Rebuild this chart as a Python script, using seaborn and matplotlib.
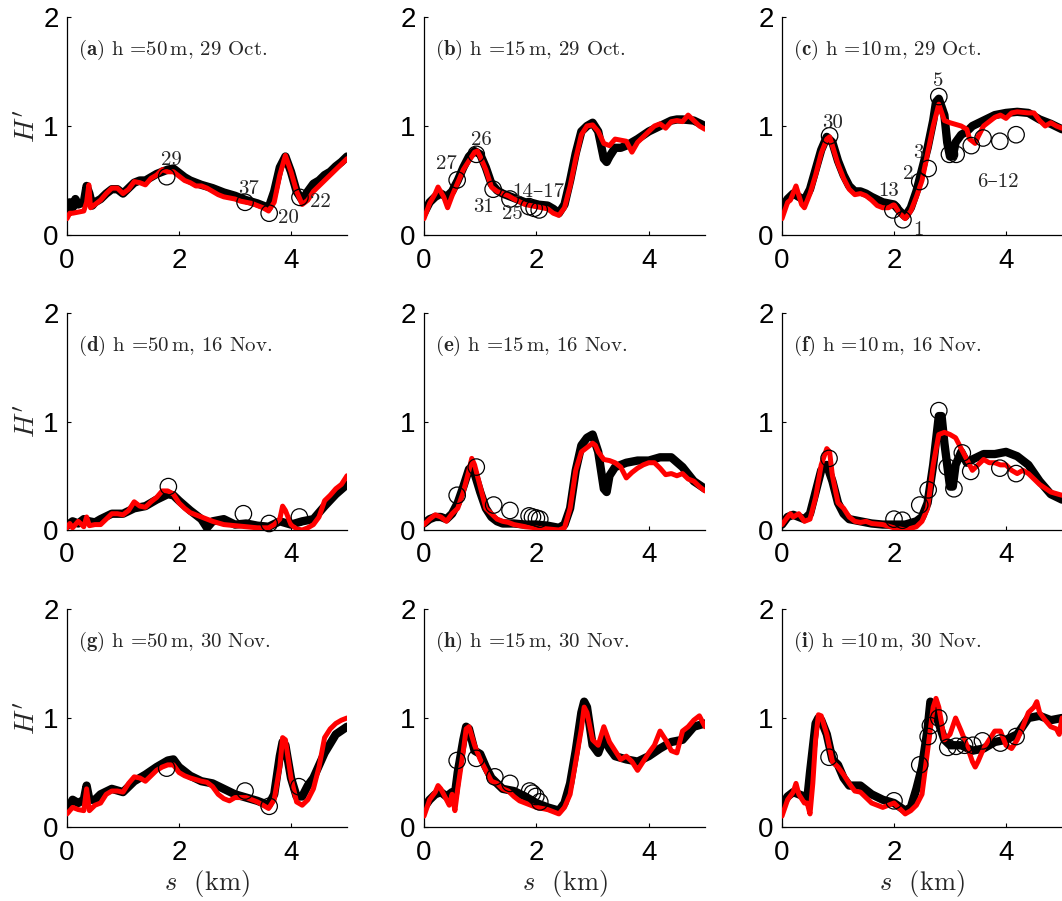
import matplotlib
matplotlib.use("Agg")
import matplotlib.pyplot as plt
import seaborn as sns

sns.set_style("ticks")
plt.rcParams['mathtext.fontset'] = 'cm'
plt.rcParams['font.family'] = ['Liberation Sans', 'DejaVu Sans']
plt.rcParams['axes.unicode_minus'] = False
SERIF = ['cmr10', 'DejaVu Serif']

# ---------------- data ----------------
LETTERS = ['a', 'b', 'c', 'd', 'e', 'f', 'g', 'h', 'i']
DEPTHS = ['50', '15', '10']
DATES = ['29 Oct.', '16 Nov.', '30 Nov.']
X_TICKS = [0, 2, 4]
Y_TICKS = [0, 1, 2]

# (a) h=50 m, 29 Oct.
S_A_BLK = [0, 0.05, 0.1, 0.15, 0.2, 0.3, 0.35, 0.4, 0.45, 0.5, 0.6, 0.7, 0.8, 0.9, 1.0, 1.1, 1.2, 1.3, 1.4, 1.5, 1.6, 1.7, 1.8, 1.9, 2.0, 2.1, 2.2, 2.4, 2.6, 2.8, 3.0, 3.2, 3.4, 3.6, 3.7, 3.8, 3.9, 4.0, 4.1, 4.2, 4.3, 4.4, 4.5, 4.6, 4.7, 4.8, 4.9, 5.0]
H_A_BLK = [0.2, 0.3, 0.25, 0.33, 0.28, 0.3, 0.45, 0.38, 0.27, 0.3, 0.33, 0.38, 0.42, 0.42, 0.38, 0.43, 0.48, 0.5, 0.5, 0.53, 0.56, 0.58, 0.6, 0.61, 0.57, 0.53, 0.5, 0.46, 0.43, 0.39, 0.36, 0.32, 0.29, 0.25, 0.4, 0.62, 0.72, 0.58, 0.4, 0.32, 0.4, 0.47, 0.5, 0.55, 0.58, 0.63, 0.67, 0.72]
S_A_RED = [0, 0.05, 0.1, 0.2, 0.3, 0.35, 0.39, 0.42, 0.5, 0.6, 0.7, 0.8, 0.9, 1.0, 1.1, 1.2, 1.3, 1.4, 1.5, 1.6, 1.7, 1.8, 1.9, 2.0, 2.1, 2.2, 2.3, 2.4, 2.5, 2.6, 2.7, 2.8, 2.9, 3.0, 3.1, 3.2, 3.3, 3.4, 3.5, 3.6, 3.7, 3.8, 3.9, 4.0, 4.1, 4.2, 4.3, 4.4, 4.5, 4.6, 4.7, 4.8, 4.9, 5.0]
H_A_RED = [0.15, 0.2, 0.2, 0.21, 0.22, 0.3, 0.46, 0.25, 0.28, 0.32, 0.38, 0.43, 0.43, 0.38, 0.42, 0.49, 0.48, 0.46, 0.52, 0.55, 0.6, 0.58, 0.58, 0.54, 0.5, 0.48, 0.45, 0.45, 0.43, 0.4, 0.37, 0.35, 0.34, 0.33, 0.31, 0.3, 0.29, 0.27, 0.25, 0.22, 0.3, 0.55, 0.73, 0.58, 0.4, 0.28, 0.32, 0.4, 0.45, 0.5, 0.55, 0.6, 0.65, 0.7]
S_A_OBS = [1.78, 3.18, 3.61, 4.16]
H_A_OBS = [0.535, 0.30, 0.20, 0.345]

# (b) h=15 m, 29 Oct.
S_B_BLK = [0, 0.1, 0.2, 0.3, 0.4, 0.5, 0.6, 0.7, 0.8, 0.9, 1.0, 1.1, 1.2, 1.3, 1.4, 1.5, 1.6, 1.8, 2.0, 2.2, 2.3, 2.4, 2.5, 2.6, 2.7, 2.8, 2.9, 3.0, 3.1, 3.2, 3.25, 3.3, 3.4, 3.5, 3.6, 3.8, 4.0, 4.2, 4.4, 4.5, 4.6, 4.8, 5.0]
H_B_BLK = [0.2, 0.3, 0.35, 0.38, 0.35, 0.4, 0.5, 0.62, 0.72, 0.77, 0.74, 0.62, 0.47, 0.41, 0.38, 0.36, 0.34, 0.3, 0.28, 0.27, 0.24, 0.2, 0.28, 0.5, 0.75, 0.95, 1.0, 1.03, 0.95, 0.7, 0.67, 0.72, 0.8, 0.8, 0.82, 0.88, 0.95, 1.0, 1.05, 1.06, 1.06, 1.05, 1.0]
S_B_RED = [0, 0.1, 0.2, 0.25, 0.35, 0.42, 0.5, 0.6, 0.7, 0.8, 0.9, 0.95, 1.0, 1.1, 1.2, 1.3, 1.4, 1.5, 1.6, 1.8, 2.0, 2.2, 2.3, 2.4, 2.5, 2.6, 2.7, 2.8, 2.9, 3.0, 3.1, 3.2, 3.3, 3.4, 3.6, 3.7, 3.8, 4.0, 4.1, 4.2, 4.3, 4.4, 4.5, 4.6, 4.7, 4.8, 4.9, 5.0]
H_B_RED = [0.15, 0.29, 0.38, 0.44, 0.35, 0.25, 0.36, 0.48, 0.6, 0.68, 0.76, 0.77, 0.72, 0.6, 0.44, 0.4, 0.38, 0.36, 0.33, 0.28, 0.26, 0.24, 0.2, 0.18, 0.25, 0.45, 0.7, 0.92, 1.0, 1.01, 0.95, 0.84, 0.82, 0.88, 0.86, 0.76, 0.85, 0.95, 1.0, 1.02, 0.98, 1.04, 1.05, 1.04, 1.1, 1.05, 1.0, 0.97]
S_B_OBS = [0.59, 0.93, 1.23, 1.53, 1.87, 1.96, 2.05]
H_B_OBS = [0.505, 0.74, 0.42, 0.33, 0.26, 0.245, 0.23]

# (c) h=10 m, 29 Oct.
S_C_BLK = [0, 0.1, 0.2, 0.3, 0.4, 0.5, 0.6, 0.7, 0.8, 0.9, 1.0, 1.1, 1.2, 1.3, 1.4, 1.5, 1.6, 1.8, 2.0, 2.1, 2.2, 2.3, 2.4, 2.5, 2.6, 2.7, 2.75, 2.8, 2.9, 2.95, 3.0, 3.05, 3.1, 3.2, 3.3, 3.4, 3.6, 3.8, 4.0, 4.2, 4.4, 4.6, 4.8, 5.0]
H_C_BLK = [0.25, 0.33, 0.38, 0.35, 0.32, 0.42, 0.6, 0.78, 0.9, 0.85, 0.68, 0.55, 0.45, 0.4, 0.4, 0.38, 0.35, 0.3, 0.28, 0.22, 0.17, 0.25, 0.4, 0.6, 0.8, 1.05, 1.22, 1.25, 1.1, 0.85, 0.72, 0.72, 0.85, 0.92, 0.95, 1.0, 1.05, 1.1, 1.12, 1.13, 1.12, 1.06, 1.02, 0.97]
S_C_RED = [0, 0.1, 0.15, 0.25, 0.35, 0.4, 0.5, 0.6, 0.7, 0.8, 0.85, 0.9, 1.0, 1.1, 1.2, 1.3, 1.4, 1.5, 1.6, 1.7, 1.8, 1.9, 2.0, 2.1, 2.2, 2.3, 2.4, 2.5, 2.6, 2.7, 2.8, 2.9, 3.0, 3.2, 3.3, 3.35, 3.45, 3.5, 3.6, 3.8, 3.9, 4.0, 4.1, 4.2, 4.4, 4.5, 4.6, 4.7, 4.8, 4.9, 5.0]
H_C_RED = [0.15, 0.3, 0.32, 0.45, 0.28, 0.25, 0.38, 0.55, 0.75, 0.88, 0.9, 0.82, 0.65, 0.52, 0.42, 0.37, 0.38, 0.36, 0.32, 0.27, 0.25, 0.25, 0.28, 0.2, 0.15, 0.22, 0.35, 0.5, 0.75, 1.0, 1.2, 1.05, 1.03, 1.0, 0.97, 0.88, 0.84, 0.9, 1.0, 1.08, 1.1, 1.07, 1.12, 1.13, 1.12, 1.12, 1.05, 1.0, 1.03, 1.0, 0.98]
S_C_OBS = [0.85, 1.98, 2.16, 2.46, 2.61, 2.80, 2.99, 3.11, 3.38, 3.59, 3.89, 4.18]
H_C_OBS = [0.91, 0.23, 0.14, 0.49, 0.61, 1.27, 0.74, 0.74, 0.82, 0.89, 0.86, 0.92]

# (d) h=50 m, 16 Nov.
S_D_BLK = [0, 0.1, 0.2, 0.3, 0.4, 0.5, 0.6, 0.8, 1.0, 1.2, 1.4, 1.6, 1.8, 1.9, 2.0, 2.2, 2.4, 2.5, 2.6, 2.8, 3.0, 3.2, 3.4, 3.6, 3.8, 4.0, 4.2, 4.4, 4.6, 4.8, 5.0]
H_D_BLK = [0.04, 0.08, 0.06, 0.1, 0.08, 0.07, 0.1, 0.15, 0.15, 0.2, 0.22, 0.28, 0.33, 0.32, 0.27, 0.18, 0.1, 0.02, 0.08, 0.1, 0.05, 0.06, 0.04, 0.03, 0.08, 0.05, 0.08, 0.1, 0.22, 0.33, 0.42]
S_D_RED = [0, 0.05, 0.1, 0.2, 0.3, 0.35, 0.4, 0.5, 0.6, 0.7, 0.8, 0.9, 1.0, 1.1, 1.2, 1.3, 1.4, 1.5, 1.6, 1.7, 1.8, 1.9, 2.0, 2.1, 2.2, 2.4, 2.6, 2.8, 3.0, 3.2, 3.4, 3.6, 3.7, 3.8, 3.85, 3.9, 4.0, 4.1, 4.2, 4.3, 4.4, 4.5, 4.6, 4.7, 4.8, 4.9, 5.0]
H_D_RED = [0.02, 0.06, 0.02, 0.08, 0.03, 0.12, 0.04, 0.05, 0.05, 0.1, 0.15, 0.15, 0.14, 0.18, 0.26, 0.22, 0.21, 0.26, 0.3, 0.36, 0.36, 0.33, 0.25, 0.2, 0.16, 0.12, 0.08, 0.05, 0.04, 0.03, 0.02, 0.02, 0.05, 0.1, 0.22, 0.18, 0.05, 0.01, 0.0, 0.02, 0.05, 0.12, 0.27, 0.32, 0.38, 0.42, 0.5]
S_D_OBS = [1.81, 3.15, 3.61, 4.15]
H_D_OBS = [0.40, 0.15, 0.06, 0.12]

# (e) h=15 m, 16 Nov.
S_E_BLK = [0, 0.1, 0.2, 0.3, 0.4, 0.5, 0.6, 0.7, 0.8, 0.85, 0.9, 1.0, 1.1, 1.2, 1.3, 1.4, 1.6, 1.8, 2.0, 2.2, 2.4, 2.5, 2.6, 2.7, 2.8, 2.9, 3.0, 3.1, 3.2, 3.25, 3.3, 3.4, 3.6, 3.8, 4.0, 4.2, 4.4, 4.6, 4.8, 5.0]
H_E_BLK = [0.06, 0.1, 0.12, 0.12, 0.1, 0.15, 0.25, 0.4, 0.56, 0.58, 0.52, 0.35, 0.2, 0.12, 0.08, 0.06, 0.06, 0.05, 0.05, 0.04, 0.02, 0.05, 0.2, 0.55, 0.78, 0.85, 0.88, 0.72, 0.38, 0.35, 0.5, 0.58, 0.62, 0.64, 0.64, 0.67, 0.67, 0.58, 0.45, 0.38]
S_E_RED = [0, 0.1, 0.2, 0.3, 0.4, 0.5, 0.6, 0.7, 0.8, 0.85, 0.9, 1.0, 1.1, 1.2, 1.3, 1.4, 1.5, 1.6, 1.8, 2.0, 2.2, 2.4, 2.5, 2.6, 2.7, 2.8, 2.9, 3.0, 3.05, 3.1, 3.2, 3.3, 3.4, 3.5, 3.6, 3.7, 3.8, 3.9, 4.0, 4.1, 4.2, 4.3, 4.4, 4.5, 4.6, 4.7, 4.8, 4.9, 5.0]
H_E_RED = [0.05, 0.1, 0.14, 0.12, 0.08, 0.15, 0.2, 0.35, 0.55, 0.66, 0.6, 0.4, 0.2, 0.15, 0.1, 0.08, 0.07, 0.05, 0.03, 0.02, 0.01, 0.0, 0.02, 0.2, 0.55, 0.72, 0.76, 0.8, 0.78, 0.72, 0.65, 0.64, 0.62, 0.58, 0.48, 0.53, 0.57, 0.6, 0.62, 0.62, 0.57, 0.51, 0.52, 0.5, 0.52, 0.47, 0.45, 0.4, 0.36]
S_E_OBS = [0.59, 0.93, 1.24, 1.53, 1.87, 1.93, 2.0, 2.06]
H_E_OBS = [0.32, 0.58, 0.23, 0.18, 0.13, 0.12, 0.11, 0.10]

# (f) h=10 m, 16 Nov.
S_F_BLK = [0, 0.1, 0.2, 0.3, 0.4, 0.5, 0.6, 0.7, 0.8, 0.9, 1.0, 1.1, 1.2, 1.4, 1.6, 1.8, 2.0, 2.2, 2.4, 2.5, 2.6, 2.7, 2.8, 2.85, 2.9, 3.0, 3.05, 3.1, 3.2, 3.3, 3.4, 3.6, 3.8, 4.0, 4.2, 4.4, 4.6, 4.8, 5.0]
H_F_BLK = [0.05, 0.12, 0.14, 0.12, 0.1, 0.15, 0.35, 0.55, 0.6, 0.45, 0.25, 0.15, 0.1, 0.08, 0.06, 0.05, 0.05, 0.05, 0.08, 0.12, 0.25, 0.6, 1.05, 1.05, 0.8, 0.4, 0.4, 0.6, 0.72, 0.62, 0.65, 0.7, 0.7, 0.72, 0.68, 0.6, 0.45, 0.33, 0.28]
S_F_RED = [0, 0.1, 0.15, 0.2, 0.3, 0.4, 0.5, 0.6, 0.7, 0.8, 0.85, 0.9, 1.0, 1.1, 1.2, 1.3, 1.4, 1.5, 1.6, 1.8, 2.0, 2.2, 2.4, 2.5, 2.6, 2.7, 2.8, 2.9, 3.0, 3.1, 3.2, 3.3, 3.4, 3.5, 3.6, 3.7, 3.8, 3.9, 4.0, 4.1, 4.2, 4.3, 4.4, 4.6, 4.8, 5.0]
H_F_RED = [0.05, 0.12, 0.15, 0.12, 0.15, 0.08, 0.1, 0.3, 0.6, 0.75, 0.72, 0.5, 0.25, 0.2, 0.12, 0.08, 0.07, 0.08, 0.06, 0.05, 0.02, 0.0, 0.03, 0.08, 0.2, 0.6, 0.88, 0.9, 0.88, 0.85, 0.75, 0.65, 0.55, 0.6, 0.65, 0.62, 0.62, 0.6, 0.6, 0.55, 0.52, 0.55, 0.52, 0.42, 0.35, 0.32]
S_F_OBS = [0.84, 2.0, 2.15, 2.46, 2.61, 2.80, 2.95, 3.07, 3.22, 3.37, 3.89, 4.18]
H_F_OBS = [0.66, 0.10, 0.09, 0.23, 0.37, 1.10, 0.58, 0.38, 0.71, 0.54, 0.57, 0.52]

# (g) h=50 m, 30 Nov.
S_G_BLK = [0, 0.1, 0.2, 0.3, 0.35, 0.4, 0.5, 0.6, 0.8, 1.0, 1.2, 1.4, 1.6, 1.8, 1.9, 2.0, 2.2, 2.4, 2.6, 2.8, 3.0, 3.2, 3.4, 3.6, 3.7, 3.8, 3.85, 3.9, 4.0, 4.1, 4.2, 4.3, 4.4, 4.6, 4.8, 5.0]
H_G_BLK = [0.15, 0.25, 0.22, 0.25, 0.38, 0.25, 0.25, 0.3, 0.35, 0.32, 0.42, 0.48, 0.55, 0.61, 0.62, 0.55, 0.47, 0.42, 0.4, 0.35, 0.3, 0.27, 0.24, 0.2, 0.3, 0.65, 0.78, 0.75, 0.45, 0.28, 0.28, 0.38, 0.45, 0.68, 0.85, 0.92]
S_G_RED = [0, 0.1, 0.2, 0.3, 0.35, 0.4, 0.5, 0.6, 0.7, 0.8, 0.9, 1.0, 1.1, 1.2, 1.3, 1.4, 1.5, 1.6, 1.7, 1.8, 1.9, 2.0, 2.1, 2.2, 2.4, 2.5, 2.6, 2.7, 2.8, 2.9, 3.0, 3.2, 3.4, 3.6, 3.7, 3.8, 3.85, 3.9, 4.0, 4.1, 4.2, 4.3, 4.4, 4.5, 4.6, 4.7, 4.8, 4.9, 5.0]
H_G_RED = [0.12, 0.18, 0.16, 0.15, 0.35, 0.15, 0.2, 0.22, 0.3, 0.33, 0.33, 0.32, 0.4, 0.46, 0.45, 0.42, 0.47, 0.52, 0.55, 0.57, 0.57, 0.5, 0.47, 0.45, 0.42, 0.41, 0.37, 0.3, 0.26, 0.24, 0.27, 0.27, 0.23, 0.17, 0.25, 0.55, 0.82, 0.8, 0.45, 0.23, 0.2, 0.25, 0.35, 0.55, 0.82, 0.9, 0.95, 0.98, 1.0]
S_G_OBS = [1.78, 3.18, 3.61, 4.14]
H_G_OBS = [0.54, 0.33, 0.19, 0.37]

# (h) h=15 m, 30 Nov.
S_H_BLK = [0, 0.1, 0.2, 0.3, 0.4, 0.5, 0.55, 0.6, 0.7, 0.75, 0.8, 0.9, 1.0, 1.1, 1.2, 1.3, 1.4, 1.6, 1.8, 2.0, 2.2, 2.4, 2.5, 2.6, 2.7, 2.8, 2.85, 2.9, 3.0, 3.1, 3.2, 3.3, 3.4, 3.6, 3.8, 4.0, 4.2, 4.4, 4.6, 4.8, 5.0]
H_H_BLK = [0.18, 0.25, 0.3, 0.32, 0.28, 0.32, 0.3, 0.5, 0.8, 0.92, 0.9, 0.7, 0.67, 0.55, 0.45, 0.4, 0.35, 0.33, 0.28, 0.22, 0.18, 0.15, 0.22, 0.4, 0.7, 1.05, 1.15, 1.1, 0.75, 0.68, 0.82, 0.72, 0.65, 0.62, 0.6, 0.65, 0.72, 0.78, 0.8, 0.92, 0.95]
S_H_RED = [0, 0.1, 0.2, 0.25, 0.3, 0.4, 0.45, 0.5, 0.55, 0.6, 0.7, 0.75, 0.8, 0.9, 1.0, 1.1, 1.2, 1.3, 1.4, 1.5, 1.6, 1.7, 1.8, 1.9, 2.0, 2.2, 2.3, 2.4, 2.5, 2.6, 2.7, 2.8, 2.85, 2.9, 3.0, 3.1, 3.2, 3.3, 3.4, 3.5, 3.6, 3.7, 3.8, 3.9, 4.0, 4.1, 4.2, 4.3, 4.4, 4.5, 4.6, 4.7, 4.8, 4.9, 5.0]
H_H_RED = [0.1, 0.25, 0.32, 0.38, 0.35, 0.25, 0.2, 0.3, 0.15, 0.35, 0.7, 0.9, 0.92, 0.75, 0.62, 0.52, 0.42, 0.4, 0.35, 0.33, 0.28, 0.24, 0.22, 0.2, 0.18, 0.16, 0.14, 0.12, 0.18, 0.3, 0.6, 0.9, 1.1, 1.05, 0.8, 0.75, 0.92, 0.78, 0.7, 0.62, 0.65, 0.6, 0.52, 0.6, 0.68, 0.75, 0.88, 0.8, 0.7, 0.68, 0.88, 0.92, 0.98, 1.02, 0.92]
S_H_OBS = [0.59, 0.93, 1.26, 1.53, 1.88, 1.93, 1.99, 2.06]
H_H_OBS = [0.61, 0.63, 0.46, 0.40, 0.33, 0.31, 0.28, 0.23]

# (i) h=10 m, 30 Nov.
S_I_BLK = [0, 0.1, 0.2, 0.3, 0.4, 0.45, 0.5, 0.6, 0.65, 0.7, 0.8, 0.9, 1.0, 1.1, 1.2, 1.4, 1.6, 1.8, 2.0, 2.2, 2.3, 2.4, 2.5, 2.6, 2.65, 2.7, 2.8, 2.9, 3.0, 3.2, 3.4, 3.6, 3.8, 4.0, 4.2, 4.4, 4.6, 4.8, 5.0]
H_I_BLK = [0.2, 0.28, 0.32, 0.3, 0.28, 0.25, 0.5, 0.95, 1.0, 0.98, 0.85, 0.62, 0.57, 0.45, 0.38, 0.38, 0.3, 0.25, 0.22, 0.15, 0.18, 0.35, 0.55, 0.9, 1.15, 1.1, 0.95, 0.8, 0.75, 0.75, 0.7, 0.72, 0.78, 0.8, 0.85, 1.0, 1.02, 0.98, 1.0]
S_I_RED = [0, 0.1, 0.2, 0.25, 0.3, 0.4, 0.45, 0.5, 0.55, 0.6, 0.65, 0.7, 0.8, 0.9, 1.0, 1.1, 1.2, 1.3, 1.4, 1.5, 1.6, 1.7, 1.8, 1.9, 2.0, 2.1, 2.2, 2.3, 2.4, 2.5, 2.6, 2.7, 2.75, 2.8, 2.9, 3.0, 3.1, 3.2, 3.3, 3.4, 3.45, 3.5, 3.6, 3.7, 3.8, 3.9, 4.0, 4.1, 4.2, 4.3, 4.4, 4.5, 4.55, 4.6, 4.7, 4.8, 4.9, 4.95, 5.0]
H_I_RED = [0.1, 0.25, 0.32, 0.4, 0.3, 0.22, 0.22, 0.12, 0.4, 0.8, 1.03, 1.02, 0.85, 0.6, 0.55, 0.48, 0.4, 0.33, 0.32, 0.27, 0.22, 0.2, 0.18, 0.2, 0.22, 0.17, 0.12, 0.15, 0.2, 0.3, 0.7, 1.1, 1.18, 1.1, 0.8, 0.85, 1.0, 0.88, 0.75, 0.6, 0.55, 0.6, 0.72, 0.8, 0.88, 0.88, 0.75, 0.72, 0.8, 0.92, 1.05, 1.1, 1.15, 1.05, 0.98, 0.92, 0.9, 0.85, 1.0]
S_I_OBS = [0.84, 2.0, 2.46, 2.61, 2.65, 2.80, 2.96, 3.11, 3.26, 3.41, 3.58, 3.90, 4.18]
H_I_OBS = [0.64, 0.24, 0.57, 0.83, 0.93, 1.0, 0.73, 0.74, 0.75, 0.75, 0.79, 0.77, 0.83]

BLACK_S = [S_A_BLK, S_B_BLK, S_C_BLK, S_D_BLK, S_E_BLK, S_F_BLK, S_G_BLK, S_H_BLK, S_I_BLK]
BLACK_H = [H_A_BLK, H_B_BLK, H_C_BLK, H_D_BLK, H_E_BLK, H_F_BLK, H_G_BLK, H_H_BLK, H_I_BLK]
RED_S = [S_A_RED, S_B_RED, S_C_RED, S_D_RED, S_E_RED, S_F_RED, S_G_RED, S_H_RED, S_I_RED]
RED_H = [H_A_RED, H_B_RED, H_C_RED, H_D_RED, H_E_RED, H_F_RED, H_G_RED, H_H_RED, H_I_RED]
OBS_S = [S_A_OBS, S_B_OBS, S_C_OBS, S_D_OBS, S_E_OBS, S_F_OBS, S_G_OBS, S_H_OBS, S_I_OBS]
OBS_H = [H_A_OBS, H_B_OBS, H_C_OBS, H_D_OBS, H_E_OBS, H_F_OBS, H_G_OBS, H_H_OBS, H_I_OBS]

# station-number labels (text, s, H')
LBL_A = [('29', 1.86, 0.69), ('37', 3.25, 0.42), ('20', 3.95, 0.16), ('22', 4.52, 0.30)]
LBL_B = [('27', 0.39, 0.65), ('26', 1.02, 0.87), ('31', 1.05, 0.26), ('25', 1.57, 0.19), ('14\u201317', 2.04, 0.39)]
LBL_C = [('30', 0.91, 1.03), ('13', 1.90, 0.40), ('1', 2.44, 0.05), ('2', 2.25, 0.56), ('3', 2.43, 0.75), ('5', 2.79, 1.41), ('6\u201312', 3.86, 0.49)]
LABELS = [LBL_A, LBL_B, LBL_C, [], [], [], [], [], []]

# ---------------- layout (pixels) ----------------
W, H = 1062, 901
COL_LEFT = [67, 424, 782]
COL_W = [280, 281, 280]
ROW_TOP = [17, 313, 609]
ROW_BOT = [235, 530, 827]

fig = plt.figure(figsize=(W / 100, H / 100), dpi=100)

for k in range(9):
    r, c = divmod(k, 3)
    ax = fig.add_axes([COL_LEFT[c] / W, 1 - ROW_BOT[r] / H, COL_W[c] / W,
                       (ROW_BOT[r] - ROW_TOP[r]) / H])
    sns.lineplot(x=BLACK_S[k], y=BLACK_H[k], ax=ax, color='black', lw=6,
                 solid_capstyle='round', solid_joinstyle='round', zorder=2)
    sns.lineplot(x=RED_S[k], y=RED_H[k], ax=ax, color='#ff0000', lw=3.6,
                 solid_capstyle='round', solid_joinstyle='round', zorder=3)
    sns.scatterplot(x=OBS_S[k], y=OBS_H[k], ax=ax, marker='o', s=140,
                    facecolor='none', edgecolor='black', linewidth=0.9,
                    zorder=4, clip_on=False)
    for txt, sx, hy in LABELS[k]:
        ax.text(sx, hy, txt, fontfamily=SERIF, fontsize=15, ha='center',
                va='center', zorder=5)
    ax.text(0.2, 1.70, '(' + r'$\mathbf{' + LETTERS[k] + '}$' + ') h =' + DEPTHS[c]
            + r'$\,$' + 'm, ' + DATES[r], fontfamily=SERIF, fontsize=15,
            ha='left', va='center')
    ax.set_xlim(0, 5)
    ax.set_ylim(0, 2)
    ax.set_xticks(X_TICKS)
    ax.set_yticks(Y_TICKS)
    ax.set_xticklabels([str(v) for v in X_TICKS])
    ax.set_yticklabels([str(v) for v in Y_TICKS])
    ax.tick_params(direction='in', length=3, width=0.8, labelsize=20,
                   colors='black')
    ax.tick_params(axis='x', pad=9)
    ax.tick_params(axis='y', pad=6)
    for sp in ['top', 'right']:
        ax.spines[sp].set_visible(False)
    for sp in ['left', 'bottom']:
        ax.spines[sp].set_linewidth(0.9)
        ax.spines[sp].set_color('black')
    ax.set_xlabel('')
    ax.set_ylabel('')
    if c == 0:
        ax.set_ylabel(r"$H'$", fontsize=20, labelpad=1)
    if r == 2:
        ax.set_xlabel(r'$s$' + '  (km)', fontfamily=SERIF, fontsize=19,
                      labelpad=2)

fig.savefig('out.png', dpi=100)
